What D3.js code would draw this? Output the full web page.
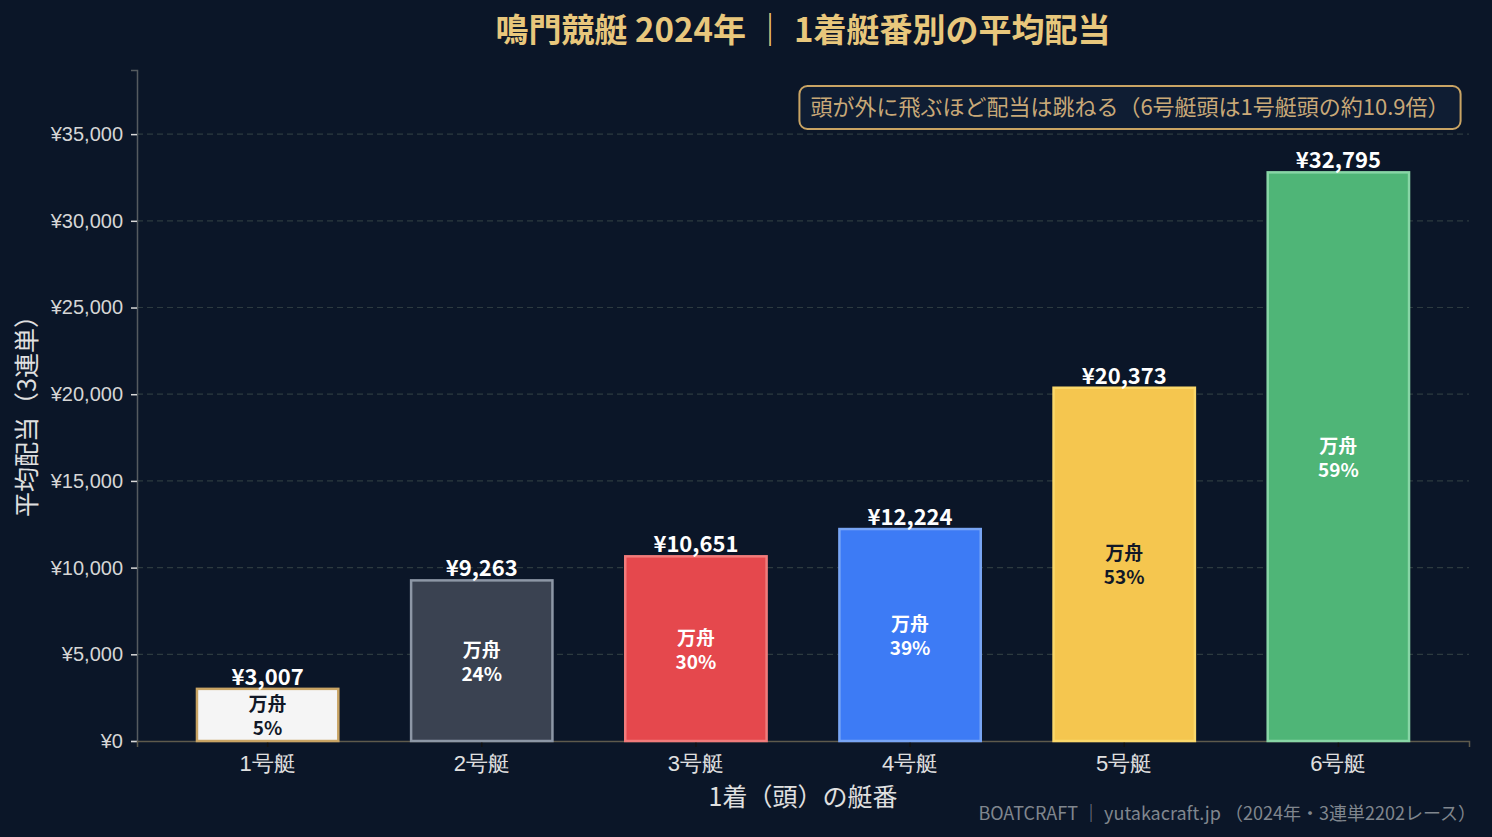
<!DOCTYPE html>
<html>
<head>
<meta charset="utf-8">
<script src="https://cdn.jsdelivr.net/npm/d3@7"></script>
<style>
  html, body { margin: 0; padding: 0; background: #0b1628; }
  svg { display: block; font-family: "Noto Sans CJK JP", "Noto Sans", sans-serif; }
</style>
</head>
<body>
<div id="chart"></div>
<script>
// データ
const boats = ["1号艇", "2号艇", "3号艇", "4号艇", "5号艇", "6号艇"];
const avgPayout = [3007, 9263, 10651, 12224, 20373, 32795];
const manshuPct = [5, 24, 30, 39, 53, 59];
const yTicks = [0, 5000, 10000, 15000, 20000, 25000, 30000, 35000];

// 色
const fills = ["#f5f5f5", "#3a4251", "#e5484d", "#3d7bf5", "#f5c64f", "#4fb577"];
const strokes = ["#c9a464", "#8d97a6", "#f27b7b", "#78a5f5", "#fbd86a", "#88d6a6"];
const innerText = ["#111827", "#ffffff", "#ffffff", "#ffffff", "#111827", "#ffffff"];

const W = 1492, H = 837;
const margin = { top: 70, right: 23, bottom: 96, left: 137 };
const width = W - margin.left - margin.right;
const height = H - margin.top - margin.bottom;

const svg = d3.select("#chart")
  .append("svg")
  .attr("width", W)
  .attr("height", H);

svg.append("rect").attr("width", W).attr("height", H).attr("fill", "#0b1628");

const g = svg.append("g")
  .attr("transform", `translate(${margin.left},${margin.top})`);

// スケール
const x = d3.scaleBand()
  .domain(boats)
  .range([0, width])
  .paddingInner(0.34)
  .paddingOuter(0.28);

const y = d3.scaleLinear()
  .domain([0, d3.max(avgPayout) * 1.18])
  .range([height, 0]);

// グリッド
g.append("g")
  .selectAll("line")
  .data(yTicks.slice(1))
  .enter()
  .append("line")
  .attr("x1", 0)
  .attr("x2", width)
  .attr("y1", d => y(d))
  .attr("y2", d => y(d))
  .attr("stroke", "#2c3a3f")
  .attr("stroke-width", 1.2)
  .attr("stroke-dasharray", "6,4");

// 軸
const yAxis = d3.axisLeft(y)
  .tickValues(yTicks)
  .tickFormat(d => "¥" + d3.format(",")(d))
  .tickSize(6)
  .tickPadding(8);

const yG = g.append("g").call(yAxis);
yG.select(".domain").attr("stroke", "#555b60").attr("stroke-width", 1.5);
yG.selectAll(".tick line").attr("stroke", "#d8d8d8").attr("stroke-width", 1.5);
yG.selectAll(".tick text")
  .attr("fill", "#d6d6d6")
  .style("font-size", "20px");

const xAxis = d3.axisBottom(x).tickSize(6).tickPadding(8);
const xG = g.append("g")
  .attr("transform", `translate(0,${height})`)
  .call(xAxis);
xG.select(".domain").attr("stroke", "#5e5a4c").attr("stroke-width", 1.5);
xG.selectAll(".tick line").attr("stroke", "#111").attr("stroke-width", 1.5);
xG.selectAll(".tick text")
  .attr("fill", "#e0e0e0")
  .style("font-size", "22px");

// 棒
const idx = d3.range(boats.length);

g.selectAll(".bar")
  .data(idx)
  .enter()
  .append("rect")
  .attr("class", "bar")
  .attr("x", i => x(boats[i]))
  .attr("y", i => y(avgPayout[i]))
  .attr("width", x.bandwidth())
  .attr("height", i => height - y(avgPayout[i]))
  .attr("fill", i => fills[i])
  .attr("stroke", i => strokes[i])
  .attr("stroke-width", 2.5);

// 値ラベル
g.selectAll(".val")
  .data(idx)
  .enter()
  .append("text")
  .attr("class", "val")
  .attr("x", i => x(boats[i]) + x.bandwidth() / 2)
  .attr("y", i => y(avgPayout[i]) - 4)
  .attr("text-anchor", "middle")
  .attr("fill", "#ffffff")
  .style("font-size", "22px")
  .style("font-weight", "bold")
  .text(i => "¥" + d3.format(",")(avgPayout[i]));

// 万舟率ラベル
const inner = g.selectAll(".inner")
  .data(idx)
  .enter()
  .append("text")
  .attr("class", "inner")
  .attr("text-anchor", "middle")
  .attr("fill", i => innerText[i])
  .style("font-size", "19px")
  .style("font-weight", "bold");

inner.append("tspan")
  .attr("x", i => x(boats[i]) + x.bandwidth() / 2)
  .attr("y", i => (y(avgPayout[i]) + height) / 2 - 4)
  .text("万舟");
inner.append("tspan")
  .attr("x", i => x(boats[i]) + x.bandwidth() / 2)
  .attr("y", i => (y(avgPayout[i]) + height) / 2 + 20)
  .text(i => manshuPct[i] + "%");

// 注記ボックス
const note = "頭が外に飛ぶほど配当は跳ねる（6号艇頭は1号艇頭の約10.9倍）";
const noteG = svg.append("g");
const noteText = noteG.append("text")
  .attr("x", 1130)
  .attr("y", 115)
  .attr("text-anchor", "middle")
  .attr("fill", "#c9a978")
  .style("font-size", "22px")
  .text(note);
const bb = noteText.node().getBBox();
noteG.insert("rect", "text")
  .attr("x", bb.x - 11)
  .attr("y", 86)
  .attr("width", bb.width + 22)
  .attr("height", 43)
  .attr("rx", 8)
  .attr("fill", "#0f1d33")
  .attr("stroke", "#c9a464")
  .attr("stroke-width", 2);

// タイトル
svg.append("text")
  .attr("x", 803)
  .attr("y", 42)
  .attr("text-anchor", "middle")
  .attr("fill", "#e8c77c")
  .style("font-size", "33px")
  .style("font-weight", "bold")
  .text("鳴門競艇 2024年 ｜ 1着艇番別の平均配当");

// 軸タイトル
svg.append("text")
  .attr("x", margin.left + width / 2)
  .attr("y", 806)
  .attr("text-anchor", "middle")
  .attr("fill", "#e0e0e0")
  .style("font-size", "25px")
  .text("1着（頭）の艇番");

svg.append("text")
  .attr("transform", "rotate(-90)")
  .attr("x", -(margin.top + 340))
  .attr("y", 36)
  .attr("text-anchor", "middle")
  .attr("fill", "#e0e0e0")
  .style("font-size", "25px")
  .text("平均配当（3連単）");

// フッター
svg.append("text")
  .attr("x", 1476)
  .attr("y", 820)
  .attr("text-anchor", "end")
  .attr("fill", "#80868e")
  .style("font-size", "18px")
  .text("BOATCRAFT ｜ yutakacraft.jp （2024年・3連単2202レース）");
</script>
</body>
</html>
